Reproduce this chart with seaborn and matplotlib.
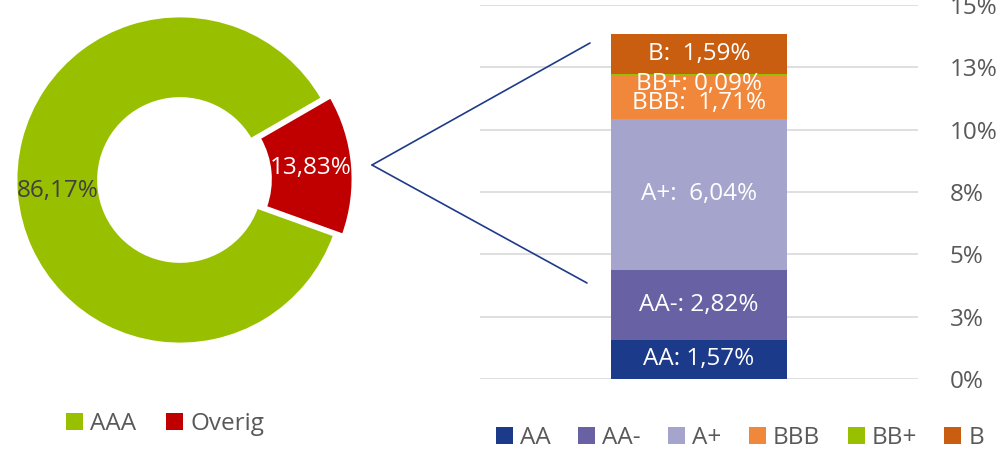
import numpy as np
import pandas as pd
import matplotlib
matplotlib.use("Agg")
import matplotlib.pyplot as plt
from matplotlib.patches import Patch
from matplotlib.lines import Line2D
import seaborn as sns

# donut data
pie_labels = ["AAA", "Overig"]
pie_values = [86.17, 13.83]
pie_colors = ["#99C000", "#C00000"]

# stacked bar data (breakdown of "Overig")
bar_labels = ["AA", "AA-", "A+", "BBB", "BB+", "B"]
bar_values = [1.57, 2.82, 6.04, 1.71, 0.09, 1.59]
bar_colors = ["#1C3A8A", "#6862A4", "#A5A4CC", "#F0873A", "#99C000", "#C95E10"]
bar_texts = ["AA: 1,57%", "AA-: 2,82%", "A+:  6,04%", "BBB:  1,71%", "BB+: 0,09%", "B:  1,59%"]

tick_vals = [0, 2.5, 5, 7.5, 10, 12.5, 15]
tick_text = ["0%", "3%", "5%", "8%", "10%", "13%", "15%"]

sns.set_theme(style="white")
plt.rcParams["font.family"] = ["Open Sans", "DejaVu Sans"]
FS = 17.5
GREY = "#595959"

fig = plt.figure(figsize=(10, 4.49), dpi=100)

# ---- donut ----
ax_pie = fig.add_axes([0, 89 / 449, 0.36, 360 / 449])
start = 30
explode = [0, 0.055]
ax_pie.pie(pie_values, colors=pie_colors, startangle=start, counterclock=True,
           explode=explode, radius=1,
           wedgeprops=dict(width=0.5, edgecolor="white", linewidth=1.5))
ax_pie.set_xlim(-1.1, 1.1)
ax_pie.set_ylim(-1.1, 1.1)

cum = np.cumsum([0] + pie_values)
label_cols = ["#404040", "white"]
for i, v in enumerate(pie_values):
    mid = np.deg2rad(start + 3.6 * (cum[i] + v / 2))
    r = 0.75 + explode[i]
    ax_pie.text(r * np.cos(mid), r * np.sin(mid), f"{v:.2f}".replace(".", ",") + "%",
                ha="center", va="center", fontsize=FS, color=label_cols[i])

pie_handles = [Patch(facecolor=c, edgecolor="none") for c in pie_colors]
fig.legend(pie_handles, pie_labels, loc="center", bbox_to_anchor=(165 / 1000, 1 - 424 / 449),
           ncol=2, frameon=False, fontsize=FS, handlelength=0.7, handleheight=0.7,
           handletextpad=0.3, columnspacing=1.25, labelcolor=GREY)

# ---- stacked bar ----
ax_bar = fig.add_axes([0.48, 70 / 449, 0.438, 374 / 449])
tops = np.cumsum(bar_values)
df = pd.DataFrame({"cat": ["Overig"] * len(bar_labels), "top": tops, "rating": bar_labels})
# draw cumulative bars from the tallest down so each layer shows its own band
for i in reversed(range(len(bar_labels))):
    sns.barplot(data=df.iloc[[i]], x="cat", y="top", color=bar_colors[i], width=0.4,
                saturation=1, ax=ax_bar, zorder=2, linewidth=0, edgecolor="none")

offsets = [0, 0, 0, -0.2, -0.35, 0]
bottoms = tops - np.array(bar_values)
for i, t in enumerate(bar_texts):
    ax_bar.text(0, (bottoms[i] + tops[i]) / 2 + offsets[i], t, ha="center", va="center",
                fontsize=FS, color="white", zorder=3)

ax_bar.set_xlim(-0.5, 0.5)
ax_bar.set_ylim(0, 15)
ax_bar.set_yticks(tick_vals)
ax_bar.set_yticklabels(tick_text)
ax_bar.yaxis.tick_right()
ax_bar.tick_params(axis="y", length=0, pad=23, labelsize=FS, labelcolor=GREY)
ax_bar.set_xticks([])
ax_bar.set_xlabel("")
ax_bar.set_ylabel("")
ax_bar.grid(axis="y", color="#D9D9D9", linewidth=1.2, zorder=0)
ax_bar.set_axisbelow(True)
for s in ax_bar.spines.values():
    s.set_visible(False)

bar_handles = [Patch(facecolor=c, edgecolor="none") for c in bar_colors]
fig.legend(bar_handles, bar_labels, loc="center", bbox_to_anchor=(740 / 1000, 1 - 438 / 449),
           ncol=6, frameon=False, fontsize=FS, handlelength=0.7, handleheight=0.7,
           handletextpad=0.3, columnspacing=1.12, labelcolor=GREY)

# connector lines from the red slice to the bar
line_col = "#1F3A8A"
fig.add_artist(Line2D([372 / 1000, 590 / 1000], [1 - 165 / 449, 1 - 43 / 449],
                      transform=fig.transFigure, color=line_col, linewidth=1.2))
fig.add_artist(Line2D([372 / 1000, 587 / 1000], [1 - 165 / 449, 1 - 283 / 449],
                      transform=fig.transFigure, color=line_col, linewidth=1.2))

fig.savefig("out.png", dpi=100)
